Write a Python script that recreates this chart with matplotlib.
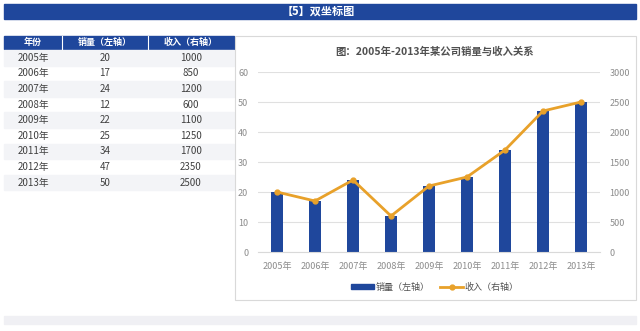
import matplotlib
matplotlib.use("Agg")
import matplotlib.pyplot as plt
from matplotlib.patches import Rectangle
from matplotlib.lines import Line2D

plt.rcParams['font.family'] = ['Noto Sans CJK SC', 'DejaVu Sans']

years = ['2005年', '2006年', '2007年', '2008年', '2009年', '2010年', '2011年', '2012年', '2013年']
sales = [20, 17, 24, 12, 22, 25, 34, 47, 50]
income = [1000, 850, 1200, 600, 1100, 1250, 1700, 2350, 2500]
col_heads = ['年份', '销量（左轴）', '收入（右轴）']

blue = '#1f479c'
orange = '#e8a12a'
gray_txt = '#8c8c8c'

W, H = 640, 331
fig = plt.figure(figsize=(6.4, 3.31), dpi=100)

# background layer in pixel coords
bg = fig.add_axes([0, 0, 1, 1])
bg.set_xlim(0, W)
bg.set_ylim(H, 0)
bg.axis('off')

# top banner
bg.add_patch(Rectangle((4, 4), 632, 15, color=blue))
bg.text(318, 11.5, '【5】双坐标图', color='white', fontsize=8, fontweight='bold',
        ha='center', va='center')

# table
cols_x = [4, 62, 148, 234]
bg.add_patch(Rectangle((4, 36), 230, 13, color=blue))
for i, h in enumerate(col_heads):
    bg.text((cols_x[i] + cols_x[i + 1]) / 2, 42.5, h, color='white', fontsize=6.5,
            fontweight='bold', ha='center', va='center')
for x in cols_x[1:-1]:
    bg.plot([x, x], [36, 49], color='white', lw=0.8)
row_h = 15.6
for r in range(len(years)):
    y0 = 50 + r * row_h
    if r % 2 == 0:
        bg.add_patch(Rectangle((4, y0), 230, row_h, color='#f3f4f7'))
    vals = [years[r], str(sales[r]), str(income[r])]
    for i, v in enumerate(vals):
        bg.text((cols_x[i] + cols_x[i + 1]) / 2, y0 + row_h / 2, v, color='#404040',
                fontsize=7, ha='center', va='center')

# chart frame
bg.add_patch(Rectangle((235, 36), 401, 264, fill=False, ec='#d9d9d9', lw=0.8))
bg.text(435, 52, '图：2005年-2013年某公司销量与收入关系', color='#505050', fontsize=7.5,
        fontweight='bold', ha='center', va='center')

# bottom strip
bg.add_patch(Rectangle((4, 316), 632, 8, color='#f0f0f4'))

# main chart
ax = fig.add_axes([258 / W, 1 - 252 / H, 342 / W, 180 / H])
x = range(len(years))
ax.bar(x, sales, width=0.33, color=blue, zorder=2)
ax.set_ylim(0, 60)
ax.set_xlim(-0.5, len(years) - 0.5)
ax.set_yticks(range(0, 61, 10))
ax.grid(axis='y', color='#e0e0e0', lw=0.8, zorder=0)
ax.set_xticks(list(x))
ax.set_xticklabels(years)
for s in ax.spines.values():
    s.set_visible(False)
ax.spines['bottom'].set_visible(True)
ax.spines['bottom'].set_color('#d9d9d9')
ax.tick_params(length=0, labelsize=6.5, colors=gray_txt, pad=7)
ax.tick_params(axis='x', pad=7)
ax.patch.set_alpha(0)

ax2 = ax.twinx()
ax2.plot(x, income, color=orange, lw=2, marker='o', markersize=3.5, zorder=3)
ax2.set_ylim(0, 3000)
ax2.set_yticks(range(0, 3001, 500))
for s in ax2.spines.values():
    s.set_visible(False)
ax2.tick_params(length=0, labelsize=6.5, colors=gray_txt, pad=7)

# legend
handles = [Rectangle((0, 0), 1, 1, color=blue),
           Line2D([], [], color=orange, lw=2, marker='o', markersize=3.5)]
fig.legend(handles, ['销量（左轴）', '收入（右轴）'], loc='center', ncol=2,
           bbox_to_anchor=(435 / W, 1 - 287 / H), frameon=False, fontsize=6.5,
           labelcolor='#505050', handlelength=2.5, handleheight=0.5, columnspacing=1.2,
           handletextpad=0.2)

fig.savefig('out.png', dpi=100)
